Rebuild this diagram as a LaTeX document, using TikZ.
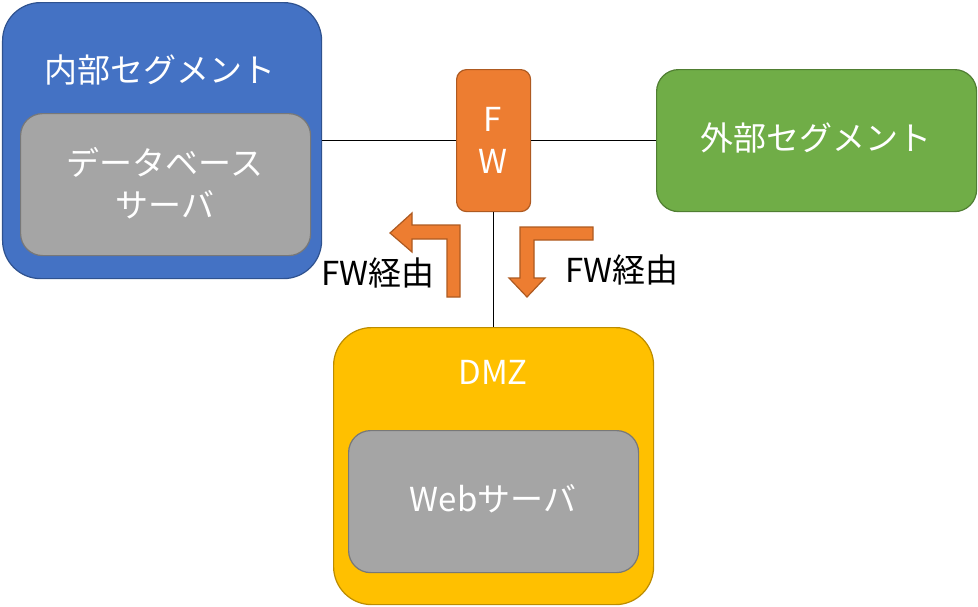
\documentclass[tikz,border=0pt]{standalone}
\usepackage{fontspec}
\setmainfont{Noto Sans CJK JP}
\definecolor{blu}{HTML}{4472C4}\definecolor{bluD}{HTML}{2F528F}
\definecolor{gry}{HTML}{A5A5A5}\definecolor{gryD}{HTML}{787878}
\definecolor{org}{HTML}{ED7D31}\definecolor{orgD}{HTML}{AE5A21}
\definecolor{grn}{HTML}{70AD47}\definecolor{grnD}{HTML}{507E32}
\definecolor{yel}{HTML}{FFC000}\definecolor{yelD}{HTML}{BC8C00}
\begin{document}
\begin{tikzpicture}[x=1pt,y=-1pt,
 box/.style={draw,line width=1.2pt,inner sep=0pt,anchor=north west,rounded corners=#1},
 wt/.style={text=white,font=\fontsize{33}{42}\selectfont,align=center},
 bt/.style={text=black,font=\fontsize{33}{42}\selectfont},
 ln/.style={line width=1.6pt}]
\useasboundingbox (0,0) rectangle (978,606);
\node[box=38pt,fill=blu,draw=bluD,minimum width=319pt,minimum height=276pt] (in) at (2,2) {};
\node[wt] (intitle) at (160,70) {内部セグメント};
\node[box=22pt,fill=gry,draw=gryD,minimum width=290pt,minimum height=142pt] (db) at (20,113) {};
\node[wt] (dbt) at (165,183) {データベース\\サーバ};
\node[box=10pt,fill=org,draw=orgD,minimum width=74pt,minimum height=142pt] (fw) at (456,69) {};
\node[wt] (fwt) at (493,140) {F\\W};
\node[box=22pt,fill=grn,draw=grnD,minimum width=320pt,minimum height=142pt] (ex) at (656,69) {};
\node[wt] (ext) at (816,138) {外部セグメント};
\node[box=38pt,fill=yel,draw=yelD,minimum width=320pt,minimum height=277pt] (dmz) at (333,327) {};
\node[wt] (dmzt) at (493,372) {DMZ};
\node[box=22pt,fill=gry,draw=gryD,minimum width=290pt,minimum height=142pt] (web) at (348,430) {};
\node[wt] (webt) at (493,499) {Webサーバ};
\draw[ln] (in.east|-fw.west) -- (fw.west);
\draw[ln] (fw.east) -- (ex.west);
\draw[ln] (fw.south) -- (dmz.north);
\draw[fill=org,draw=orgD,line width=1.2pt] (460,297) -- (460,225) -- (412,225) -- (412,213) -- (390,233) -- (412,252) -- (412,239) -- (447,239) -- (447,297) -- cycle;
\draw[fill=org,draw=orgD,line width=1.2pt] (593,227) -- (520,227) -- (520,278) -- (509,278) -- (527,297) -- (545,278) -- (534,278) -- (534,240) -- (593,240) -- cycle;
\node[bt] (l1) at (378,273) {FW経由};
\node[bt] (l2) at (622,270) {FW経由};
\end{tikzpicture}
\end{document}
